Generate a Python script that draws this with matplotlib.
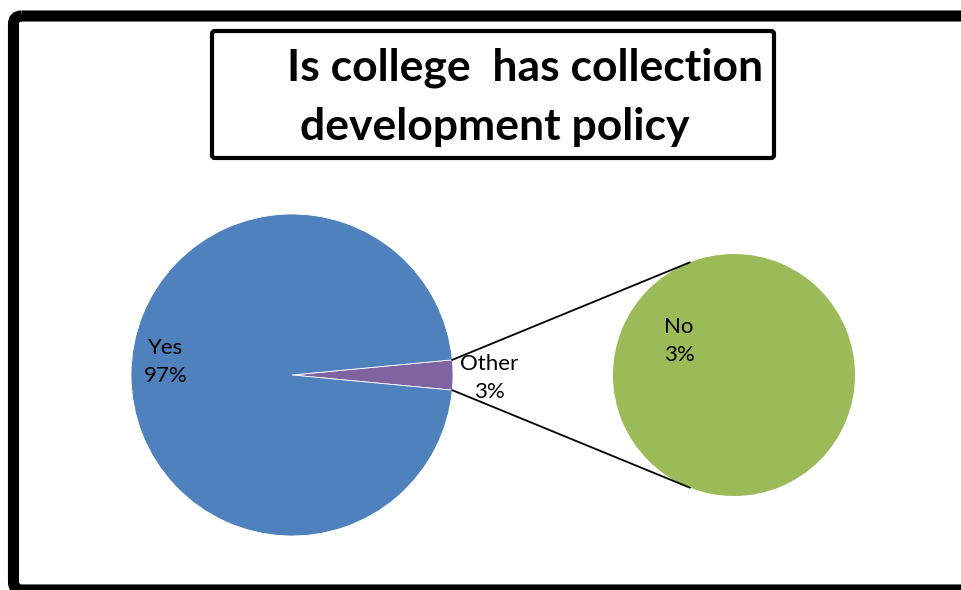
import numpy as np
import matplotlib.pyplot as plt
from matplotlib.patches import FancyBboxPatch

title_lines = ["Is college  has collection", "development policy"]
main_labels = ["Other", "Yes"]
main_values = [3, 97]
sub_labels = ["No"]
sub_values = [3]
colors_main = ["#8064A2", "#4F81BD"]
colors_sub = ["#9BBB59"]

plt.rcParams['font.family'] = ['Lato', 'DejaVu Sans']

fig = plt.figure(figsize=(9.62, 5.9), dpi=100)
ax = fig.add_axes([0, 0, 1, 1])

# main pie
c1, r1 = (292, 375), 161
half = 360 * main_values[0] / sum(main_values) / 2
ax.pie(main_values, colors=colors_main, startangle=-half, center=c1, radius=r1,
       wedgeprops=dict(edgecolor='white', linewidth=0.6), frame=True)

# sub pie
c2, r2 = (734, 375), 121
ax.pie(sub_values, colors=colors_sub, center=c2, radius=r2, frame=True,
       wedgeprops=dict(linewidth=0))

ax.set_xlim(0, 962)
ax.set_ylim(590, 0)
ax.set_aspect('equal')
ax.axis('off')

# outer frame
frame = FancyBboxPatch((13.5, 16), 1000, 574, boxstyle="round,pad=0,rounding_size=8",
                       fill=False, lw=8, ec='black', clip_on=False)
ax.add_patch(frame)

# title box
tbox = FancyBboxPatch((212, 31), 562, 127, boxstyle="round,pad=0,rounding_size=3",
                      fill=False, lw=3, ec='black')
ax.add_patch(tbox)
ax.text(525, 68, title_lines[0], ha='center', va='center', fontsize=32, fontweight='bold')
ax.text(495, 127, title_lines[1], ha='center', va='center', fontsize=32, fontweight='bold')

# connector lines
for s in (1, -1):
    a1 = np.deg2rad(half) * s
    p1 = (c1[0] + r1 * np.cos(a1), c1[1] - r1 * np.sin(a1))
    a2 = np.deg2rad(111.5) * s
    p2 = (c2[0] + r2 * np.cos(a2), c2[1] - r2 * np.sin(a2))
    ax.plot([p1[0], p2[0]], [p1[1], p2[1]], color='black', lw=1.3)

# data labels
pct = [f"{v}%" for v in main_values]
kw = dict(ha='center', va='center', fontsize=16, linespacing=1.5)
ax.text(166, 362, f"{main_labels[1]}\n{pct[1]}", **kw)
ax.text(489, 378, f"{main_labels[0]}\n{pct[0]}", **kw)
ax.text(679, 341, f"{sub_labels[0]}\n{sub_values[0]}%", **kw)

fig.savefig("out.png", dpi=100)
